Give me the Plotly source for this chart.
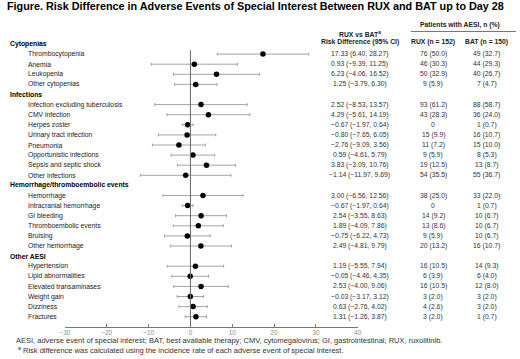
import plotly.graph_objects as go

# ---------------- data ----------------
groups = ["Cytopenias", "Infections", "Hemorrhage/thromboembolic events", "Other AESI"]
group_sizes = [4, 8, 6, 6]
events = [
    "Thrombocytopenia", "Anemia", "Leukopenia", "Other cytopenias",
    "Infection excluding tuberculosis", "CMV infection", "Herpes zoster",
    "Urinary tract infection", "Pneumonia", "Opportunistic infections",
    "Sepsis and septic shock", "Other infections",
    "Hemorrhage", "Intracranial hemorrhage", "GI bleeding",
    "Thromboembolic events", "Bruising", "Other hemorrhage",
    "Hypertension", "Lipid abnormalities", "Elevated transaminases",
    "Weight gain", "Dizziness", "Fractures",
]
rd = [17.33, 0.93, 6.23, 1.25,
      2.52, 4.29, -0.67, -0.80, -2.76, 0.59, 3.83, -1.14,
      3.00, -0.67, 2.54, 1.89, -0.75, 2.49,
      1.19, -0.05, 2.53, -0.03, 0.63, 1.31]
ci_low = [6.40, -9.39, -4.06, -3.79,
          -8.53, -5.61, -1.97, -7.65, -9.09, -4.61, -3.09, -11.97,
          -6.56, -1.97, -3.55, -4.09, -6.22, -4.81,
          -5.55, -4.46, -4.00, -3.17, -2.76, -1.26]
ci_high = [28.27, 11.25, 16.52, 6.30,
           13.57, 14.19, 0.64, 6.05, 3.56, 5.79, 10.76, 9.69,
           12.56, 0.64, 8.63, 7.86, 4.73, 9.79,
           7.94, 4.35, 9.06, 3.12, 4.02, 3.87]
rux_n = [76, 46, 50, 9, 93, 43, 0, 15, 11, 9, 19, 54, 38, 0, 14, 13, 9, 20, 16, 6, 16, 3, 4, 3]
rux_pct = [50.0, 30.3, 32.9, 5.9, 61.2, 28.3, None, 9.9, 7.2, 5.9, 12.5, 35.5,
           25.0, None, 9.2, 8.6, 5.9, 13.2, 10.5, 3.9, 10.5, 2.0, 2.6, 2.0]
bat_n = [49, 44, 40, 7, 88, 36, 1, 16, 15, 8, 13, 55, 33, 1, 10, 10, 10, 16, 14, 6, 12, 3, 3, 1]
bat_pct = [32.7, 29.3, 26.7, 4.7, 58.7, 24.0, 0.7, 10.7, 10.0, 5.3, 8.7, 36.7,
           22.0, 0.7, 6.7, 6.7, 6.7, 10.7, 9.3, 4.0, 8.0, 2.0, 2.0, 0.7]
x_ticks = [-30, -20, -10, 0, 10, 20, 30, 40]

title = "Figure. Risk Difference in Adverse Events of Special Interest Between RUX and BAT up to Day 28"
footnote1 = ("AESI, adverse event of special interest; BAT, best available therapy; CMV, cytomegalovirus; "
             "GI, gastrointestinal; RUX, ruxolitinib.")
footnote2 = "<sup>a</sup> Risk difference was calculated using the incidence rate of each adverse event of special interest."

# ---------------- layout helpers ----------------
W, H = 520, 359
FONT = "Liberation Sans, Arial, sans-serif"
ROW_PX = 10.1          # pixel height of one row
FIRST_ROW_PX = 44.0    # pixel of first row (group header)
AXIS_PX = 326.5        # pixel of x-axis line
y_top = -FIRST_ROW_PX / ROW_PX
y_bottom = y_top + AXIS_PX / ROW_PX
FS = 6.8               # body font size


def px(xp):
    return xp / W


def py(yp):
    return 1 - yp / H


def fmt(v):
    return f"{v:.2f}".replace("-", "\u2212")


# row positions
header_rows = []
item_rows = []
r = 0
for g, n in zip(groups, group_sizes):
    header_rows.append(r)
    r += 1
    for _ in range(n):
        item_rows.append(r)
        r += 1

fig = go.Figure()
fig.add_trace(go.Scatter(
    x=rd, y=item_rows, mode="markers",
    marker=dict(color="black", size=5.5),
    error_x=dict(type="data", symmetric=False,
                 array=[h - v for h, v in zip(ci_high, rd)],
                 arrayminus=[v - l for v, l in zip(rd, ci_low)],
                 color="#9a9a9a", thickness=0.9, width=1.5),
    hoverinfo="skip",
))

ann = []
TXT = "#1a1a1a"
VAL = "#333333"
RD_X, RUX_X, BAT_X = 361, 436, 490
for g, yr in zip(groups, header_rows):
    ann.append(dict(x=px(3.5), y=yr, xref="paper", yref="y", text=f"<b>{g}</b>",
                    xanchor="left", yanchor="middle", showarrow=False,
                    font=dict(family=FONT, size=FS, color="black")))
for i, yr in enumerate(item_rows):
    ann.append(dict(x=px(21.5), y=yr, xref="paper", yref="y", text=events[i],
                    xanchor="left", yanchor="middle", showarrow=False,
                    font=dict(family=FONT, size=FS, color=TXT)))
    ann.append(dict(x=px(RD_X), y=yr, xref="paper", yref="y",
                    text=f"{fmt(rd[i])} ({fmt(ci_low[i])}, {fmt(ci_high[i])})",
                    xanchor="center", yanchor="middle", showarrow=False,
                    font=dict(family=FONT, size=FS, color=VAL)))
    rt = f"{rux_n[i]} ({rux_pct[i]:.1f})" if rux_pct[i] is not None else f"{rux_n[i]}"
    bt = f"{bat_n[i]} ({bat_pct[i]:.1f})" if bat_pct[i] is not None else f"{bat_n[i]}"
    ann.append(dict(x=px(RUX_X), y=yr, xref="paper", yref="y", text=rt,
                    xanchor="center", yanchor="middle", showarrow=False,
                    font=dict(family=FONT, size=FS, color=VAL)))
    ann.append(dict(x=px(BAT_X), y=yr, xref="paper", yref="y", text=bt,
                    xanchor="center", yanchor="middle", showarrow=False,
                    font=dict(family=FONT, size=FS, color=VAL)))

# headers
hdr = [
    (RD_X, 34, "<b>RUX vs BAT<sup>a</sup></b>"),
    (RD_X, 42.5, "<b>Risk Difference (95% CI)</b>"),
    (463, 25, "<b>Patients with AESI, n (%)</b>"),
    (RUX_X, 42.5, "<b>RUX (n = 152)</b>"),
    (BAT_X, 42.5, "<b>BAT (n = 150)</b>"),
]
for xp_, yp_, t in hdr:
    ann.append(dict(x=px(xp_), y=py(yp_), xref="paper", yref="paper", text=t,
                    xanchor="center", yanchor="middle", showarrow=False,
                    font=dict(family=FONT, size=FS, color="#222")))

ann.append(dict(x=px(0), y=py(6), xref="paper", yref="paper", text=f"<b>{title}</b>",
                xanchor="left", yanchor="middle", showarrow=False,
                font=dict(family=FONT, size=10.8, color="black")))
ann.append(dict(x=px(9), y=py(340.5), xref="paper", yref="paper", text=footnote1,
                xanchor="left", yanchor="middle", showarrow=False,
                font=dict(family=FONT, size=7.5, color="#333")))
ann.append(dict(x=px(11), y=py(350), xref="paper", yref="paper", text=footnote2,
                xanchor="left", yanchor="middle", showarrow=False,
                font=dict(family=FONT, size=7.5, color="#333")))

shapes = [
    dict(type="line", xref="x", yref="y", x0=0, x1=0, y0=0.62, y1=y_bottom,
         line=dict(color="#666666", width=1)),
    dict(type="line", xref="paper", yref="paper", x0=px(413), x1=px(520),
         y0=py(31.5), y1=py(31.5), line=dict(color="#555555", width=0.8)),
]

fig.update_layout(
    width=W, height=H,
    margin=dict(l=0, r=0, t=0, b=0),
    paper_bgcolor="white", plot_bgcolor="white",
    showlegend=False,
    annotations=ann, shapes=shapes,
    xaxis=dict(domain=[px(61), px(359)], range=[-30, 40], tickvals=x_ticks,
               showline=True, linecolor="#777777", linewidth=1,
               ticks="inside", ticklen=3, tickcolor="#777777",
               tickfont=dict(family=FONT, size=6.3, color="#8a8a8a"),
               showgrid=False, zeroline=False, fixedrange=True),
    yaxis=dict(domain=[1 - AXIS_PX / H, 1], range=[y_bottom, y_top], visible=False,
               showgrid=False, zeroline=False, fixedrange=True),
)

fig.write_html("out.html", config={"displayModeBar": False},
               post_script="document.body.style.margin='0';document.body.style.overflow='hidden';")
